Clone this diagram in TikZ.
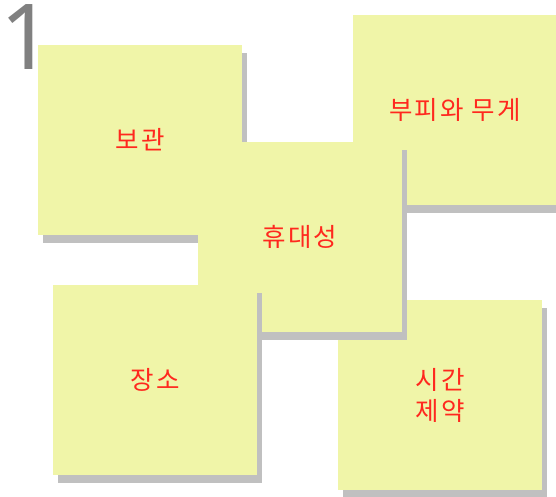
\documentclass[tikz,border=0pt]{standalone}
\usepackage{fontspec}
\setmainfont{Noto Sans}
\newfontfamily\kr[LetterSpace=8]{Noto Sans CJK KR}
\usetikzlibrary{shadows}
\definecolor{padyellow}{RGB}{240,245,168}
\definecolor{padshadow}{RGB}{192,192,192}
\definecolor{padred}{RGB}{255,40,30}
\definecolor{numgray}{RGB}{128,128,128}
\tikzset{
  pad/.style={rectangle, fill=padyellow, inner sep=0pt,
    minimum width=204pt, minimum height=190pt,
    drop shadow={shadow xshift=5pt, shadow yshift=-8pt, fill=padshadow, opacity=1},
    font=\kr\fontsize{25.5}{31}\selectfont, text=padred, align=center},
  bignum/.style={font=\fontsize{91}{91}\selectfont, text=numgray, inner sep=0pt, anchor=base west}
}
\begin{document}
\begin{tikzpicture}[x=1pt,y=-1pt]
\useasboundingbox (0,0) rectangle (556,496);
\node[bignum] (num) at (0,69) {1};
\node[pad] (keep) at (140,140) {보관};
\node[pad] (vol) at (455,110) {부피와 무게};
\node[pad] (time) at (440,395) {시간\\제약};
\node[pad] (port) at (300,237) {휴대성};
\node[pad] (place) at (155,380) {장소};
\end{tikzpicture}
\end{document}
